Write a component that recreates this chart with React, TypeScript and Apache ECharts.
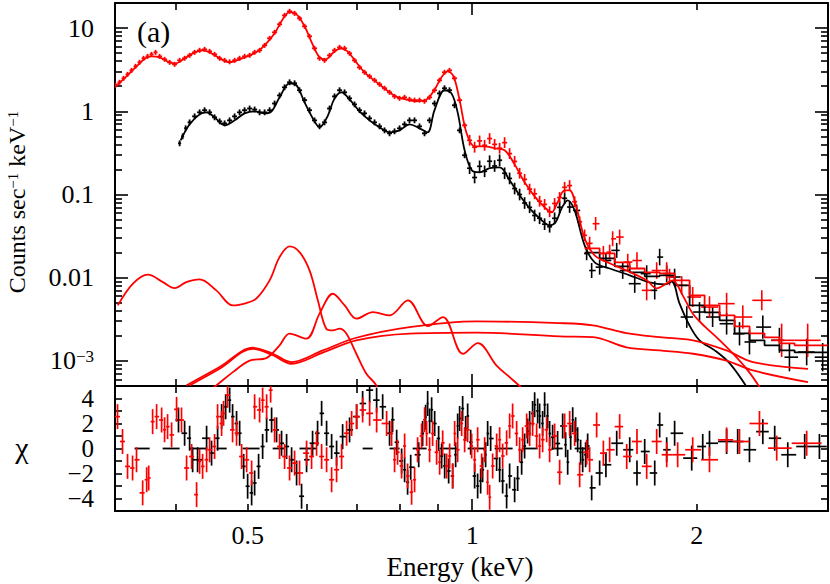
import React, { useEffect, useRef } from "react";
import * as echarts from "echarts";

// ---------- axis ranges / tick labels ----------
const E_MIN = 0.332;
const E_MAX = 3.0;
const CTS_MIN = 5e-4;
const CTS_MAX = 20;
const CHI_MIN = -5;
const CHI_MAX = 5;
const X_LABELS = [0.5, 1, 2];
const X_MAJOR = [1];
const X_MINOR = [0.4, 0.5, 0.6, 0.7, 0.8, 0.9, 2];
const Y_LABEL_EXP = [-3, -2, -1, 0, 1];
const CHI_TICKS = [-4, -3, -2, -1, 0, 1, 2, 3, 4];
const CHI_LABELS = [-4, -2, 0, 2, 4];

// ---------- red spectrum (data) ----------
const redLowE = [0.3325,0.3367,0.3409,0.3451,0.3494,0.3537,0.3581,0.3626,0.3671,0.3716,0.3763,0.3810,0.3869,0.3930,0.3991,0.4053,0.4116,0.4180,0.4245,0.4311,0.4378,0.4446,0.4515,0.4586,0.4657,0.4729,0.4803,0.4877,0.4953,0.5031,0.5109,0.5188,0.5269,0.5351,0.5434,0.5518,0.5604,0.5691,0.5780,0.5869,0.5961,0.6053,0.6147,0.6243,0.6340,0.6439,0.6539,0.6641,0.6744,0.6849,0.6955,0.7063,0.7173,0.7285,0.7398,0.7513,0.7630,0.7749,0.7869,0.7992,0.8116,0.8242,0.8370,0.8500,0.8632,0.8767,0.8903,0.9042,0.9182,0.9325,0.9470,0.9620,0.9770];
const redLowCts = [2.05,2.23,2.49,2.78,3.10,3.47,3.87,4.33,4.57,4.83,5.10,4.57,4.21,3.87,3.66,4.09,4.33,4.70,5.11,5.40,5.55,5.25,4.83,4.33,4.09,3.93,4.09,4.33,4.57,4.70,5.11,5.40,6.19,7.52,8.89,11.1,14.2,15.9,15.0,13.1,10.5,7.96,5.71,4.33,4.09,4.70,5.40,5.86,5.71,4.97,4.09,3.37,2.94,2.63,2.36,2.11,1.89,1.69,1.51,1.43,1.47,1.39,1.36,1.36,1.32,1.47,1.79,2.36,2.94,3.10,2.49,1.36,0.678];
const RED_LOW_ERR = 0.03; // dex
const redMidE = [0.9922,1.0076,1.0233,1.0392,1.0554,1.0718,1.0885,1.1054,1.1226,1.1401,1.1578,1.1758,1.1941,1.2127,1.2315,1.2507,1.2702,1.2899,1.3100,1.3304,1.3511,1.3721,1.3935];
const redMidCts = [0.448,0.37,0.44,0.39,0.47,0.40,0.36,0.42,0.31,0.25,0.18,0.152,0.116,0.102,0.083,0.076,0.062,0.078,0.092,0.122,0.128,0.082,0.047];
const RED_MID_ERR = 0.065;
const redHighE = [1.4152,1.4372,1.4641,1.4995,1.5288,1.5430,1.5768,1.6167,1.6634,1.7140,1.7677,1.8232,1.8394,1.9096,1.9757,2.0808,2.1937,2.3061,2.4455,2.6000,2.8175];
const redHighCts = [0.0323,0.0259,0.0446,0.0196,0.0203,0.0294,0.0308,0.0154,0.0161,0.00705,0.0122,0.0122,0.0102,0.0081,0.00586,0.00444,0.00488,0.00337,0.00535,0.00177,0.00177];
const redHighErr = [0.07,0.08,0.08,0.09,0.09,0.09,0.09,0.1,0.1,0.12,0.1,0.1,0.1,0.11,0.12,0.13,0.13,0.14,0.12,0.2,0.2];

// ---------- black spectrum (data) ----------
const blackLowE = [0.4053,0.4091,0.4129,0.4180,0.4245,0.4311,0.4378,0.4446,0.4515,0.4586,0.4657,0.4729,0.4803,0.4877,0.4953,0.5031,0.5109,0.5188,0.5269,0.5351,0.5434,0.5518,0.5604,0.5691,0.5780,0.5869,0.5961,0.6053,0.6147,0.6243,0.6340,0.6439,0.6539,0.6641,0.6744,0.6849,0.6955,0.7063,0.7173,0.7285,0.7398,0.7513,0.7630,0.7749,0.7869,0.7992,0.8116,0.8242,0.8370,0.8500,0.8632,0.8767,0.8903,0.9042,0.9182,0.9325,0.9470,0.9620,0.9770];
const blackLowCts = [0.412,0.500,0.624,0.736,0.869,0.971,1.03,0.971,0.845,0.757,0.716,0.778,0.869,0.971,1.03,1.08,1.05,0.971,0.971,1.03,1.24,1.55,1.94,2.23,2.17,1.79,1.36,1.03,0.778,0.659,0.736,1.08,1.51,1.79,1.69,1.43,1.21,1.03,0.944,0.822,0.736,0.659,0.590,0.543,0.574,0.624,0.697,0.778,0.778,0.659,0.543,0.778,1.24,1.64,1.89,1.79,1.18,0.590,0.296];
const BLACK_LOW_ERR = 0.035;
const blackMidE = [0.9922,1.0076,1.0233,1.0392,1.0554,1.0718,1.0885,1.1054,1.1226,1.1401,1.1578,1.1758,1.1941,1.2127,1.2315,1.2507,1.2702,1.2899,1.3100,1.3304,1.3511,1.3808];
const blackMidCts = [0.207,0.16,0.218,0.19,0.251,0.22,0.258,0.18,0.156,0.118,0.100,0.079,0.0702,0.056,0.0518,0.044,0.041,0.0518,0.0702,0.090,0.0707,0.0644];
const BLACK_MID_ERR = 0.07;
const blackHighE = [1.4240,1.4462,1.4823,1.5113,1.5625,1.5917,1.6519,1.7140,1.7571,1.7840,1.8232,1.8684,1.9398,2.0176,2.1010,2.1937,2.2828,2.3541,2.4531,2.5823,2.6634,2.8088,2.9510];
const blackHighCts = [0.0195,0.0122,0.0134,0.0161,0.0213,0.0122,0.00848,0.0112,0.00705,0.0177,0.0112,0.0102,0.00337,0.00387,0.00337,0.0028,0.00212,0.00169,0.00255,0.00177,0.00111,0.00128,0.00111];
const blackHighErr = [0.08,0.09,0.09,0.09,0.09,0.1,0.11,0.1,0.11,0.1,0.1,0.1,0.13,0.12,0.12,0.13,0.14,0.15,0.14,0.15,0.17,0.16,0.17];

// ---------- models ----------
const redModelE = [0.3325,0.3430,0.3537,0.3648,0.3716,0.3810,0.3930,0.4003,0.4116,0.4245,0.4351,0.4473,0.4614,0.4729,0.4877,0.5031,0.5157,0.5285,0.5434,0.5570,0.5691,0.5815,0.5961,0.6110,0.6243,0.6360,0.6519,0.6661,0.6807,0.6976,0.7195,0.7421,0.7653,0.7894,0.8141,0.8396,0.8659,0.8875,0.9098,0.9268,0.9441,0.9620,0.9831,1.0076,1.0392,1.0718,1.1054,1.1401,1.1758,1.2127,1.2507,1.2781,1.2998,1.3304,1.3511,1.3808,1.4152,1.4596,1.5288,1.6115,1.7140,1.7677,1.8232,1.8573,1.9155,1.9757,2.0499,2.1273,2.2361,2.3420,2.4304];
const redModelCts = [2.00,2.56,3.37,4.33,4.57,4.45,3.87,3.77,4.33,5.11,5.40,4.97,4.21,3.87,4.21,4.70,5.25,6.38,8.65,12.7,15.5,14.6,10.5,6.38,4.45,4.21,5.11,5.71,5.25,3.98,2.86,2.29,1.84,1.51,1.39,1.32,1.36,1.74,2.56,3.02,2.63,1.36,0.543,0.379,0.379,0.359,0.340,0.230,0.140,0.0951,0.0702,0.0611,0.0783,0.112,0.112,0.0682,0.0297,0.0186,0.0149,0.0122,0.0093,0.00745,0.00855,0.0093,0.00614,0.00372,0.0026,0.00192,0.00123,0.00077,0.00048];
const blackModelE = [0.4066,0.4180,0.4311,0.4405,0.4515,0.4657,0.4803,0.4953,0.5109,0.5269,0.5384,0.5518,0.5691,0.5815,0.5961,0.6147,0.6243,0.6399,0.6539,0.6682,0.6849,0.7063,0.7285,0.7513,0.7749,0.7992,0.8242,0.8500,0.8712,0.8903,0.9182,0.9382,0.9562,0.9770,0.9992,1.0233,1.0554,1.0885,1.1226,1.1578,1.1941,1.2315,1.2702,1.2938,1.3182,1.3428,1.3721,1.4152,1.4596,1.5288,1.6265,1.7293,1.8121,1.8516,1.8967,1.9563,2.0176,2.1147,2.2134,2.3329];
const blackModelCts = [0.448,0.697,0.918,0.971,0.845,0.678,0.778,0.944,0.998,0.944,0.998,1.47,2.17,2.05,1.28,0.757,0.641,0.869,1.43,1.69,1.39,0.998,0.778,0.641,0.558,0.590,0.697,0.624,0.558,1.03,1.79,1.64,0.971,0.340,0.195,0.185,0.207,0.212,0.148,0.0977,0.0682,0.0518,0.0426,0.0463,0.0682,0.0851,0.0645,0.0245,0.0153,0.0129,0.0107,0.0088,0.0083,0.0090,0.00492,0.00267,0.00177,0.00134,0.00094,0.00049];
const stepEdges = [1.4152,1.4823,1.5529,1.6265,1.7035,1.7840,1.8684,1.9569,2.0497,2.1468,2.2484,2.3550,2.4663,2.5833,2.7059,2.9966];
const redStep = [0.0225,0.0196,0.0153,0.0129,0.0116,0.0113,0.0093,0.00614,0.00466,0.00353,0.0026,0.00214,0.00192,0.00163,0.00154];
const blackStep = [0.0200,0.0171,0.0137,0.0116,0.0104,0.0107,0.0081,0.00466,0.00384,0.00308,0.00214,0.00177,0.00154,0.00134,0.00127];

// red model components
const compAE = [0.3349,0.3509,0.3674,0.3849,0.3991,0.4138,0.4311,0.4539,0.4777,0.4980,0.5135,0.5351,0.5518,0.5691,0.5869,0.6053,0.6211,0.6374,0.6505,0.6641,0.6781,0.6994,0.7214,0.7439,0.7600];
const compACts = [0.00465,0.00848,0.01088,0.00886,0.0075,0.00886,0.00955,0.00704,0.00465,0.00496,0.0056,0.00929,0.0177,0.0238,0.0203,0.01225,0.00534,0.00244,0.00233,0.00244,0.00213,0.00122,0.000702,0.000508,0.0003];
const compBE = [0.4405,0.4539,0.4777,0.5031,0.5297,0.5518,0.5691,0.5993,0.6243,0.6505,0.6746,0.6994,0.7361,0.7749,0.8201,0.8723,0.9139,0.9720,1.0181,1.0776,1.1226,1.1698];
const compBCts = [0.00042,0.000508,0.000734,0.00101,0.00108,0.00154,0.00213,0.00185,0.0037,0.00642,0.00465,0.00322,0.00386,0.00353,0.00534,0.00262,0.00337,0.00122,0.00164,0.000884,0.000639,0.00046];
const compCE = [0.4138,0.4586,0.5083,0.5406,0.5724,0.6307,0.6994,0.8242,1.0130,1.3100,1.4519,1.6100,1.7840,1.9776,2.1917,2.3791,2.8202];
const compCCts = [0.000508,0.000844,0.00144,0.00122,0.000969,0.00134,0.0019,0.00255,0.00299,0.00285,0.00268,0.00216,0.00193,0.00177,0.00134,0.000969,0.000805];
const compDE = [0.4180,0.4586,0.5083,0.5406,0.5724,0.6307,0.6994,0.8242,1.0130,1.3100,1.4519,1.6100,1.7840,1.9776,2.1917,2.3791,2.8202];
const compDCts = [0.000508,0.000805,0.0014,0.00117,0.000925,0.00126,0.00177,0.00213,0.00219,0.00197,0.00193,0.00146,0.00134,0.00122,0.00101,0.000768,0.000556];

// ---------- residuals ----------
const resRedE = [0.3346,0.3398,0.3451,0.3505,0.3548,0.3616,0.3661,0.3684,0.3729,0.3775,
0.3834,0.3869,0.3905,0.3954,0.4015,0.4077,0.4141,0.4206,0.4271,0.4311,
0.4351,0.4405,0.4446,0.4515,0.4557,0.4614,0.4642,0.4700,0.4773,0.4832,
0.4908,0.4985,0.5062,0.5109,0.5188,0.5237,0.5302,0.5368,0.5434,0.5518,
0.5604,0.5691,0.5780,0.5869,0.5998,0.6091,0.6186,0.6283,0.6380,0.6480,
0.6580,0.6683,0.6787,0.6893,0.7000,0.7131,0.7287,0.7446,0.7679,0.7798,
0.7870,0.7944,0.8043,0.8118,0.8193,0.8295,0.8372,0.8450,0.8555,0.8635,
0.8688,0.8769,0.8851,0.8961,0.9045,0.9130,0.9243,0.9329,0.9416,0.9474,
0.9562,0.9681,0.9771,0.9862,0.9985,1.0077,1.0171,1.0298,1.0393,1.0490,
1.0555,1.0653,1.0786,1.0886,1.0987,1.1123,1.1227,1.1331,1.1472,1.1579,
1.1687,1.1832,1.1942,1.2053,1.2203,1.2316,1.2431,1.2585,1.2702,1.2900,
1.3101,1.3306,1.3513,1.3722,1.3936,1.4240,1.4372,1.4686,1.4995,1.5288,
1.5768,1.6115,1.6634,1.7140,1.7677,1.8232,1.8860,1.9757,2.0808,2.1937,
2.2828,2.4279,2.5606,2.8088];
const resRedChi = [2.55,0.56,-1.43,-1.56,-0.9,-3.55,-2.5,-2.36,2.15,2.55,
2.28,1.5,1.75,1.09,3.13,2.28,-1.56,-0.64,-3.69,-1.03,
-1.43,-0.9,-0.1,0.16,2.55,2.0,2.81,4.27,1.49,1.22,
-0.64,-0.9,-1.96,3.34,3.08,3.87,3.34,4.67,1.49,0.16,
-0.64,-1.56,-1.17,-1.96,-0.37,-0.64,0.42,-0.64,-0.9,-2.5,
-1.7,-0.64,1.22,2.0,2.55,3.08,2.81,2.28,2.0,1.2,
-0.9,-0.3,-1.4,0.2,-2.2,-3.5,-2.5,-0.1,1.0,2.3,
1.2,-0.1,1.2,-0.3,-1.1,0.45,-1.4,-0.6,-2.2,1.2,
-0.1,2.0,0.7,1.5,0.2,-0.9,0.7,-1.4,-0.1,-2.7,
-3.9,-1.4,0.2,0.7,-0.6,0.45,1.8,2.6,1.2,-0.1,
0.7,1.8,1.2,2.0,1.0,0.2,0.7,1.5,-0.1,1.0,
-1.9,1.8,2.0,1.2,-2.1,-0.3,-0.9,1.88,-0.37,-0.1,
1.75,-0.64,0.56,-1.43,0.56,-0.5,-0.5,-0.1,-0.9,0.69,
0.56,2.0,0.03,0.42];
const resBlackE = [0.4039,0.4116,0.4180,0.4219,0.4284,0.4405,0.4473,0.4557,0.4614,0.4672,
0.4730,0.4773,0.4832,0.4878,0.4939,0.5000,0.5062,0.5109,0.5172,0.5237,
0.5302,0.5384,0.5467,0.5552,0.5639,0.5727,0.5816,0.5906,0.5998,0.6110,
0.6205,0.6283,0.6380,0.6480,0.6580,0.6704,0.6849,0.7000,0.7131,0.7287,
0.7446,0.7586,0.7749,0.7822,0.7921,0.8043,0.8118,0.8193,0.8272,0.8479,
0.8582,0.8662,0.8716,0.8769,0.8824,0.8907,0.9017,0.9101,0.9186,0.9300,
0.9416,0.9503,0.9562,0.9621,0.9711,0.9801,0.9862,0.9954,1.0077,1.0171,
1.0266,1.0329,1.0425,1.0490,1.0588,1.0785,1.0886,1.0987,1.1123,1.1226,
1.1401,1.1508,1.1651,1.1758,1.1868,1.1942,1.2052,1.2128,1.2241,1.2316,
1.2430,1.2508,1.2624,1.2702,1.2820,1.3019,1.3224,1.3346,1.3430,1.3555,
1.3640,1.3764,1.3850,1.3978,1.4066,1.4195,1.4284,1.4462,1.4823,1.5113,
1.5625,1.6265,1.6634,1.7035,1.7571,1.7840,1.8232,1.8684,1.9696,2.0378,
2.0808,2.1937,2.2700,2.3541,2.4531,2.5448,2.6495,2.7917,2.9215];
const resBlackChi = [2.28,1.22,0.82,-0.9,-0.9,0.82,-0.37,0.82,2.55,3.34,
3.87,2.55,2.0,1.22,-1.43,-3.02,-3.55,-2.76,-1.43,0.16,
1.49,2.28,1.49,0.42,0.16,-0.9,-1.96,-3.82,-0.9,0.42,
1.22,2.81,1.22,0.16,-0.37,0.95,1.49,2.55,3.6,4.67,
3.87,3.34,1.22,2.3,0.5,-1.0,-1.7,-2.7,-1.5,-0.5,
1.2,2.5,3.6,2.2,3.1,2.0,0.8,-0.6,-1.4,-1.8,
-2.2,-0.5,1.8,2.4,3.2,1.6,2.6,0.5,-2.2,-3.0,
-2.6,-1.7,-0.5,1.2,0.8,-0.8,-1.7,-2.6,-3.8,-2.2,
-3.3,-2.4,-1.1,0.2,1.4,2.0,2.8,3.5,3.0,2.6,
2.0,3.5,2.6,1.2,0.9,0.4,1.8,0.3,-1.1,0.9,
2.3,1.5,0.7,-0.3,-0.9,-0.5,0.2,-3.15,-1.96,-1.3,
0.42,-0.1,-1.96,-0.24,-1.96,1.88,-0.1,1.22,-0.77,0.16,
0.42,0.56,0.56,-0.1,1.35,0.82,-0.5,0.16,0.16];
const blackZeroLo = [0.3527,0.3846,0.4180,0.4543,0.4923,0.5402,0.5869,0.7131,0.7750,0.8322,0.9045,0.9862,1.0719,1.1651,1.2781,1.3722];
const blackZeroHi = [0.3695,0.4053,0.4406,0.4687,0.5188,0.5604,0.6186,0.7355,0.7993,0.8688,0.9533,1.0393,1.1331,1.2241,1.3224,1.4373];

// ---------- styling ----------
const RED = "#ff0000";
const BLACK = "#000000";
const FONT = "Liberation Serif";
const lg = Math.log10;

function binEdges(E: number[]): [number[], number[]] {
  const lo: number[] = [];
  const hi: number[] = [];
  for (let i = 0; i < E.length; i++) {
    const prev = i > 0 ? E[i - 1] : (E[i] * E[i]) / E[i + 1];
    const next = i < E.length - 1 ? E[i + 1] : (E[i] * E[i]) / E[i - 1];
    lo.push(Math.sqrt(prev * E[i]));
    hi.push(Math.sqrt(E[i] * next));
  }
  return [lo, hi];
}

function topCross(E: number[], V: number[], err: number[]) {
  const [lo, hi] = binEdges(E);
  return E.map((e, i) => [lg(e), lg(V[i]), lg(lo[i]), lg(hi[i]), lg(V[i]) - err[i], lg(V[i]) + err[i]]);
}
function resCross(E: number[], C: number[]) {
  const [lo, hi] = binEdges(E);
  return E.map((e, i) => [lg(e), C[i], lg(lo[i]), lg(hi[i]), C[i] - 1, C[i] + 1]);
}

function crossSeries(data: number[][], color: string, xi: number, yi: number, w = 1.6) {
  return {
    type: "custom",
    xAxisIndex: xi,
    yAxisIndex: yi,
    clip: true,
    silent: true,
    encode: { x: [0, 2, 3], y: [1, 4, 5] },
    data,
    renderItem: (_p: any, api: any) => {
      const x = api.value(0);
      const y = api.value(1);
      const a = api.coord([api.value(2), y]);
      const b = api.coord([api.value(3), y]);
      const c = api.coord([x, api.value(4)]);
      const d = api.coord([x, api.value(5)]);
      const style = { stroke: color, lineWidth: w };
      const children: any[] = [
        { type: "line", shape: { x1: a[0], y1: a[1], x2: b[0], y2: b[1] }, style },
      ];
      if (Math.abs(c[1] - d[1]) > 0.1) {
        children.push({ type: "line", shape: { x1: c[0], y1: c[1], x2: d[0], y2: d[1] }, style });
      }
      return { type: "group", children };
    },
  };
}

function lineSeries(E: number[], V: number[], color: string, opts: any = {}) {
  return {
    type: "line",
    xAxisIndex: 0,
    yAxisIndex: 0,
    showSymbol: false,
    symbol: "none",
    silent: true,
    clip: true,
    smooth: opts.step ? false : 0.35,
    step: opts.step || false,
    lineStyle: { color, width: 1.8 },
    data: E.map((e, i) => [lg(e), lg(V[Math.min(i, V.length - 1)])]),
    z: opts.z || 2,
  };
}

const X_MIN = lg(E_MIN);
const X_MAX = lg(E_MAX);
const Y_MIN = lg(CTS_MIN);
const Y_MAX = lg(CTS_MAX);

function yMinorTicks(): number[] {
  const out: number[] = [];
  for (let d = -4; d <= 1; d++) {
    for (let k = 2; k <= 9; k++) {
      const v = lg(k * Math.pow(10, d));
      if (v > Y_MIN + 1e-6 && v < Y_MAX - 1e-6) out.push(v);
    }
  }
  return out;
}

const labelStyle = { fontFamily: FONT, fontSize: 26, color: BLACK };

function xAxisDef(grid: number, pos: string, ticks: number[], len: number, showLine: boolean, withLabels = false) {
  return {
    type: "value",
    gridIndex: grid,
    position: pos,
    min: X_MIN,
    max: X_MAX,
    axisLine: { show: showLine, onZero: false, lineStyle: { color: BLACK, width: 2 } },
    axisTick: { show: true, inside: true, length: len, customValues: ticks.map(lg), lineStyle: { color: BLACK, width: 1.6 } },
    axisLabel: withLabels
      ? {
          show: true,
          customValues: X_LABELS.map(lg),
          margin: 11,
          ...labelStyle,
          formatter: (v: number) => {
            const e = Math.pow(10, v);
            return e < 0.95 ? e.toFixed(1) : String(Math.round(e));
          },
        }
      : { show: false },
    splitLine: { show: false },
  };
}

function yTopDef(pos: string, ticks: number[], len: number, showLine: boolean, withLabels = false) {
  return {
    type: "value",
    gridIndex: 0,
    position: pos,
    min: Y_MIN,
    max: Y_MAX,
    axisLine: { show: showLine, onZero: false, lineStyle: { color: BLACK, width: 2 } },
    axisTick: { show: true, inside: true, length: len, customValues: ticks, lineStyle: { color: BLACK, width: 1.6 } },
    axisLabel: withLabels
      ? {
          show: true,
          customValues: Y_LABEL_EXP,
          margin: 21,
          ...labelStyle,
          formatter: (v: number) => {
            const n = Math.round(v);
            if (n >= 0) return String(Math.pow(10, n));
            if (n >= -2) return Math.pow(10, n).toFixed(-n);
            return "10{sup|\u2212" + -n + "}";
          },
          rich: { sup: { fontFamily: FONT, fontSize: 17, color: BLACK, verticalAlign: "top", lineHeight: 14 } },
        }
      : { show: false },
    splitLine: { show: false },
  };
}

function yResDef(pos: string, withLabels = false) {
  return {
    type: "value",
    gridIndex: 1,
    position: pos,
    min: CHI_MIN,
    max: CHI_MAX,
    axisLine: { show: true, onZero: false, lineStyle: { color: BLACK, width: 2 } },
    axisTick: { show: true, inside: true, length: 7, customValues: CHI_TICKS, lineStyle: { color: BLACK, width: 1.6 } },
    axisLabel: withLabels
      ? {
          show: true,
          customValues: CHI_LABELS,
          margin: 21,
          fontFamily: FONT,
          fontSize: 25,
          lineHeight: 20,
          color: BLACK,
          hideOverlap: false,
          showMinLabel: true,
          showMaxLabel: true,
          formatter: (v: number) => (v < 0 ? "\u2212" + -v : String(v)),
        }
      : { show: false },
    splitLine: { show: false },
  };
}

function buildOption(): any {
  const yMinor = yMinorTicks();
  const series: any[] = [];
  // black spectrum
  series.push(crossSeries(topCross(blackLowE, blackLowCts, blackLowE.map(() => BLACK_LOW_ERR)), BLACK, 0, 0, 1.8));
  series.push(crossSeries(topCross(blackMidE, blackMidCts, blackMidE.map(() => BLACK_MID_ERR)), BLACK, 0, 0, 1.7));
  series.push(crossSeries(topCross(blackHighE, blackHighCts, blackHighErr), BLACK, 0, 0, 1.6));
  series.push(lineSeries(blackModelE, blackModelCts, BLACK));
  series.push(lineSeries(stepEdges, blackStep, BLACK, { step: "end" }));
  // red spectrum
  series.push(crossSeries(topCross(redLowE, redLowCts, redLowE.map(() => RED_LOW_ERR)), RED, 0, 0, 1.8));
  series.push(crossSeries(topCross(redMidE, redMidCts, redMidE.map(() => RED_MID_ERR)), RED, 0, 0, 1.7));
  series.push(crossSeries(topCross(redHighE, redHighCts, redHighErr), RED, 0, 0, 1.6));
  series.push(lineSeries(redModelE, redModelCts, RED, { z: 3 }));
  series.push(lineSeries(stepEdges, redStep, RED, { step: "end", z: 3 }));
  series.push(lineSeries(compAE, compACts, RED));
  series.push(lineSeries(compBE, compBCts, RED));
  series.push(lineSeries(compCE, compCCts, RED));
  series.push(lineSeries(compDE, compDCts, RED));
  // residuals
  const zeroData = blackZeroLo.map((lo, i) => {
    const c = Math.sqrt(lo * blackZeroHi[i]);
    return [lg(c), 0, lg(lo), lg(blackZeroHi[i]), 0, 0];
  });
  series.push(crossSeries(zeroData, BLACK, 4, 4, 1.8));
  series.push(crossSeries(resCross(resBlackE, resBlackChi), BLACK, 4, 4, 1.7));
  series.push(crossSeries(resCross(resRedE, resRedChi), RED, 4, 4, 1.7));

  const textBase = {
    fontFamily: FONT,
    fill: BLACK,
    align: "center",
    verticalAlign: "middle",
    textAlign: "center",
    textVerticalAlign: "middle",
  };

  return {
    animation: false,
    backgroundColor: "#ffffff",
    textStyle: { fontFamily: FONT },
    grid: [
      { left: 115, top: 3, width: 713, height: 383, containLabel: false },
      { left: 115, top: 386, width: 713, height: 125, containLabel: false },
    ],
    xAxis: [
      xAxisDef(0, "bottom", X_MAJOR, 12, true),
      xAxisDef(0, "bottom", X_MINOR, 7, false),
      xAxisDef(0, "top", X_MAJOR, 12, true),
      xAxisDef(0, "top", X_MINOR, 7, false),
      xAxisDef(1, "bottom", X_MAJOR, 12, true, true),
      xAxisDef(1, "bottom", X_MINOR, 7, false),
      xAxisDef(1, "top", X_MAJOR, 12, true),
      xAxisDef(1, "top", X_MINOR, 7, false),
    ],
    yAxis: [
      yTopDef("left", Y_LABEL_EXP, 13, true, true),
      yTopDef("left", yMinor, 7, false),
      yTopDef("right", Y_LABEL_EXP, 13, true),
      yTopDef("right", yMinor, 7, false),
      yResDef("left", true),
      yResDef("right"),
    ],
    graphic: [
      {
        type: "text",
        x: 17,
        y: 202,
        rotation: Math.PI / 2,
        style: {
          ...textBase,
          text: "Counts sec{s|\u22121} keV{s|\u22121}",
          rich: { s: { fontFamily: FONT, fontSize: 15, fill: BLACK, verticalAlign: "top" } },
          fontSize: 24,
        },
      },
      { type: "text", x: 22, y: 447, style: { ...textBase, text: "\u03c7", fontSize: 30 } },
      { type: "text", x: 460, y: 567, style: { ...textBase, text: "Energy (keV)", fontSize: 27 } },
      {
        type: "text",
        x: 137,
        y: 31,
        style: { ...textBase, text: "(a)", fontSize: 30, align: "left", textAlign: "left" },
      },
    ],
    series,
  };
}

export default function App() {
  const ref = useRef<HTMLDivElement>(null);
  useEffect(() => {
    if (!ref.current) return;
    const chart = echarts.init(ref.current, undefined, { renderer: "svg" });
    chart.setOption(buildOption());
    return () => chart.dispose();
  }, []);
  return (
    <div
      ref={ref}
      style={{ position: "absolute", left: 0, top: 0, width: 830, height: 584, background: "#ffffff" }}
    />
  );
}
